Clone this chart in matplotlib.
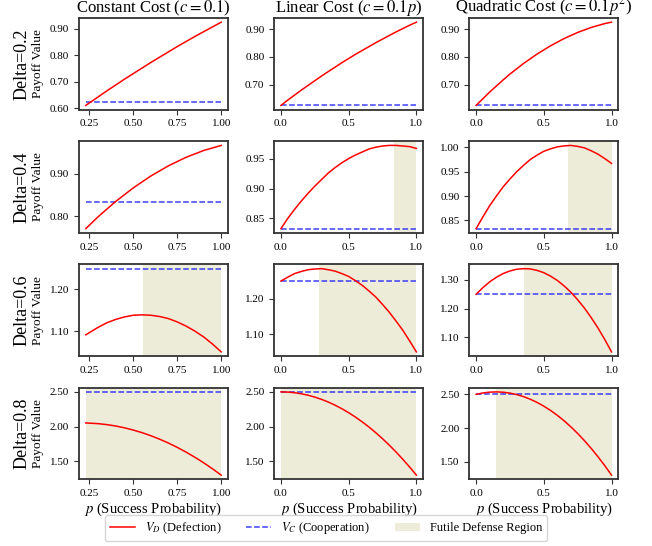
import matplotlib
matplotlib.use("Agg")
import matplotlib.pyplot as plt
from matplotlib.lines import Line2D
from matplotlib.patches import Patch
from matplotlib.ticker import FormatStrFormatter, MaxNLocator

plt.rcParams["font.family"] = "serif"
plt.rcParams["font.serif"] = ["Liberation Serif", "DejaVu Serif"]
plt.rcParams["mathtext.fontset"] = "stix"

# --- valores ---
DELTAS = [0.2, 0.4, 0.6, 0.8]
TITULOS = ["Constant Cost ($c=0.1$)",
           "Linear Cost ($c=0.1p$)",
           "Quadratic Cost ($c=0.1p^2$)"]

P_CONST = [0.23, 0.30, 0.35, 0.40, 0.45, 0.50, 0.55, 0.60,
           0.65, 0.70, 0.75, 0.80, 0.85, 0.90, 0.95, 1.00]
P_GRID = [0.00, 0.05, 0.10, 0.15, 0.20, 0.25, 0.30, 0.35, 0.40, 0.45, 0.50,
          0.55, 0.60, 0.65, 0.70, 0.75, 0.80, 0.85, 0.90, 0.95, 1.00]

V_COOP = [0.625, 0.833, 1.25, 2.5]

VD_CONST = [
    [0.611, 0.643, 0.666, 0.688, 0.710, 0.731, 0.752, 0.773,
     0.793, 0.813, 0.833, 0.852, 0.871, 0.889, 0.907, 0.925],
    [0.771, 0.799, 0.817, 0.835, 0.851, 0.867, 0.881, 0.895,
     0.907, 0.919, 0.929, 0.939, 0.947, 0.955, 0.961, 0.967],
    [1.091, 1.109, 1.120, 1.128, 1.134, 1.138, 1.139, 1.138,
     1.135, 1.130, 1.122, 1.112, 1.100, 1.086, 1.069, 1.050],
    [2.052, 2.042, 2.028, 2.008, 1.982, 1.950, 1.912, 1.868,
     1.818, 1.762, 1.700, 1.632, 1.558, 1.478, 1.392, 1.300],
]
VD_LINEAL = [
    [0.625, 0.644, 0.662, 0.680, 0.697, 0.714, 0.731, 0.747, 0.763, 0.779, 0.794,
     0.809, 0.823, 0.837, 0.851, 0.864, 0.877, 0.890, 0.902, 0.914, 0.925],
    [0.833, 0.850, 0.865, 0.879, 0.892, 0.904, 0.915, 0.926, 0.935, 0.943, 0.950,
     0.956, 0.961, 0.966, 0.969, 0.971, 0.972, 0.972, 0.971, 0.970, 0.967],
    [1.250, 1.261, 1.271, 1.277, 1.282, 1.284, 1.285, 1.282, 1.278, 1.271, 1.263,
     1.251, 1.238, 1.222, 1.205, 1.184, 1.162, 1.137, 1.111, 1.081, 1.050],
    [2.500, 2.497, 2.488, 2.473, 2.452, 2.425, 2.392, 2.353, 2.308, 2.257, 2.200,
     2.137, 2.068, 1.993, 1.912, 1.825, 1.732, 1.633, 1.528, 1.417, 1.300],
]
VD_CUADR = [
    [0.625, 0.649, 0.673, 0.695, 0.717, 0.738, 0.757, 0.776, 0.793, 0.810, 0.825,
     0.840, 0.853, 0.866, 0.877, 0.888, 0.897, 0.906, 0.913, 0.920, 0.925],
    [0.833, 0.857, 0.880, 0.900, 0.919, 0.935, 0.950, 0.963, 0.975, 0.984, 0.992,
     0.997, 1.001, 1.003, 1.004, 1.002, 0.999, 0.993, 0.986, 0.977, 0.967],
    [1.250, 1.273, 1.293, 1.309, 1.322, 1.331, 1.337, 1.339, 1.338, 1.333, 1.325,
     1.313, 1.298, 1.279, 1.257, 1.231, 1.202, 1.169, 1.133, 1.093, 1.050],
    [2.500, 2.521, 2.533, 2.537, 2.532, 2.519, 2.497, 2.467, 2.428, 2.381, 2.325,
     2.261, 2.188, 2.107, 2.017, 1.919, 1.812, 1.697, 1.573, 1.441, 1.300],
]

# inicio de la región de defensa fútil (None = no hay)
FUTIL_CONST = [None, None, 0.556, 0.23]
FUTIL_LINEAL = [None, 0.833, 0.278, 0.0]
FUTIL_CUADR = [None, 0.682, 0.357, 0.147]

COLOR_FUTIL = "olive"
ALPHA_FUTIL = 0.15
PASOS = [1, 2, 2.5, 5, 10]


def dibujar_panel(ax, p, vd, vc, futil):
    if futil is not None:
        ax.axvspan(futil, p[-1], color=COLOR_FUTIL, alpha=ALPHA_FUTIL,
                   linewidth=0, zorder=0)
    ax.plot(p, vd, color="red", linewidth=1.1, zorder=3)
    ax.plot([p[0], p[-1]], [vc, vc], color="blue", linestyle="--",
            linewidth=1.1, alpha=0.75, zorder=2)
    ax.xaxis.set_major_locator(MaxNLocator(nbins=4, steps=PASOS))
    ax.yaxis.set_major_locator(MaxNLocator(nbins=4, steps=PASOS))
    ax.yaxis.set_major_formatter(FormatStrFormatter("%.2f"))
    ax.tick_params(labelsize=8, length=3.5, width=0.8, color="#333333")
    for s in ax.spines.values():
        s.set_color("#333333")
        s.set_linewidth(1.3)


def main():
    fig, axes = plt.subplots(4, 3, figsize=(6.52, 5.46), dpi=100)
    fig.subplots_adjust(left=0.1212, right=0.9483, top=0.967, bottom=0.1222,
                        wspace=0.31, hspace=0.346)

    columnas = [(P_CONST, VD_CONST, FUTIL_CONST),
                (P_GRID, VD_LINEAL, FUTIL_LINEAL),
                (P_GRID, VD_CUADR, FUTIL_CUADR)]

    for i, delta in enumerate(DELTAS):
        for j, (p, vd, futil) in enumerate(columnas):
            ax = axes[i][j]
            dibujar_panel(ax, p, vd[i], V_COOP[i], futil[i])
            if i == 0:
                ax.set_title(TITULOS[j], fontsize=12, pad=-2.5)
            if i == len(DELTAS) - 1:
                ax.set_xlabel("$p$ (Success Probability)", fontsize=10.5, labelpad=2)
            if j == 0:
                ax.set_ylabel("Payoff Value", fontsize=9.5)
        pos = axes[i][0].get_position()
        fig.text(0.034, (pos.y0 + pos.y1) / 2, f"Delta={delta}", rotation=90,
                 ha="center", va="center", fontsize=13)

    handles = [
        Line2D([], [], color="red", linewidth=1.1, label="$V_D$ (Defection)"),
        Line2D([], [], color="blue", linestyle="--", linewidth=1.1, alpha=0.75,
               label="$V_C$ (Cooperation)"),
        Patch(facecolor=COLOR_FUTIL, alpha=ALPHA_FUTIL, label="Futile Defense Region"),
    ]
    fig.legend(handles=handles, loc="lower center", bbox_to_anchor=(0.5, 0.004),
               ncol=3, fontsize=9, frameon=True, columnspacing=2.0,
               borderaxespad=0.2)

    fig.savefig("out.png", dpi=100)
    plt.close(fig)


if __name__ == "__main__":
    main()
